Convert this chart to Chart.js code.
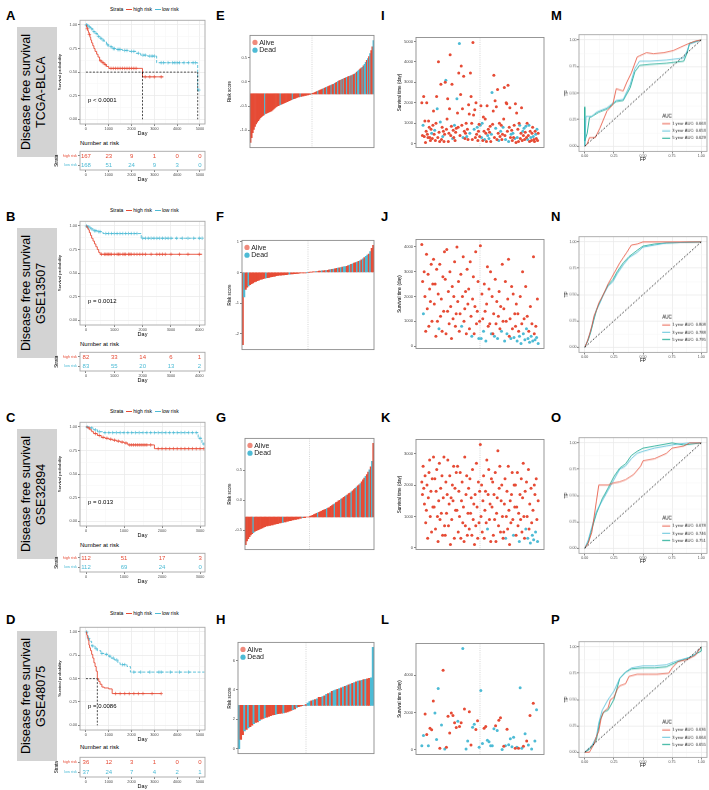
<!DOCTYPE html>
<html><head><meta charset="utf-8">
<script src="https://cdn.jsdelivr.net/npm/chart.js@4"></script>
<style>
body{margin:0;background:#fff;}
#wrap{position:relative;width:709px;height:790px;overflow:hidden;font-family:"Liberation Sans",Arial,sans-serif;color:#000;}
canvas{position:absolute;}
.tag{position:absolute;font-weight:bold;font-size:13px;line-height:13px;}
.box{position:absolute;left:17px;width:40px;height:130px;background:#D3D3D3;}
.box div{position:absolute;left:2px;top:0;width:30px;height:130px;writing-mode:vertical-rl;transform:rotate(180deg);font-size:12.5px;line-height:15px;text-align:center;white-space:nowrap;}
.kmleg{position:absolute;left:110px;font-size:5px;line-height:6px;white-space:nowrap;}
.kmleg i{display:inline-block;width:6px;height:0;border-top:1px solid;vertical-align:middle;margin:0 1px 0 3px;}
.nar{position:absolute;left:80px;font-size:6px;line-height:8px;white-space:nowrap;}
</style></head><body><div id="wrap"></div><script>
// ---------- data ----------
// Kaplan-Meier curves (day of step, survival after step), last day, censor days
const aHighDay = [0,25,50,80,110,140,175,210,250,300,350,400,470,530,600,700,800,900,1000,2480];
const aHighSurv = [1,.98,.96,.94,.92,.9,.87,.84,.81,.78,.75,.72,.69,.66,.62,.6,.58,.56,.54,.45];
const aHighLast = 3400;
const aHighCens = [60,150,650,750,850,1100,1200,1300,1400,1500,1600,1700,1800,1900,2000,2100,2200,2600,2800,3000,3300];
const aLowDay = [0,50,100,200,300,400,500,600,700,800,900,1000,1150,1300,1600,1900,2200,2400,2700,3100,4900];
const aLowSurv = [1,.99,.98,.96,.93,.91,.88,.86,.84,.82,.79,.77,.75,.74,.73,.72,.7,.68,.67,.6,.31];
const aLowLast = 4980;
const aLowCens = [20,40,80,150,250,350,450,550,650,750,950,1100,1200,1250,1400,1450,1500,1700,1800,2000,2100,2300,2500,2600,2800,2900,3000,3300,3400,3600,3800,3900,4000,4100,4300,4500,4700,4800,4950];
const aMedian = [2480, 4900];
const aRiskHigh = [167,23,9,1,0,0];
const aRiskLow = [168,51,24,9,3,0];
const aDayTicks = [0,1000,2000,3000,4000,5000];

const bHighDay = [0,40,80,120,160,200,250,300,350,400,450,500];
const bHighSurv = [1,.98,.96,.93,.9,.87,.84,.81,.78,.75,.72,.7];
const bHighLast = 4100;
const bHighCens = [550,650,700,750,800,850,900,1000,1100,1150,1200,1300,1350,1400,1500,1550,1600,1700,1800,1900,2000,2100,2300,2500,2600,2700,2800,3000,3300,3600,4000];
const bLowDay = [0,50,150,250,400,600,1950];
const bLowSurv = [1,.99,.97,.95,.94,.92,.87];
const bLowLast = 4100;
const bLowCens = [20,60,100,200,300,350,450,500,700,800,900,1000,1100,1200,1300,1400,1500,1600,1700,1800,2000,2100,2200,2300,2400,2500,2600,2700,2800,2900,3000,3200,3400,3600,3800,4000,4100];
const bMedian = [];
const bRiskHigh = [82,33,14,6,1];
const bRiskLow = [83,55,20,13,2];
const bDayTicks = [0,1000,2000,3000,4000];

const cHighDay = [0,50,100,150,200,300,400,500,600,700,800,900,1000,1100,1800];
const cHighSurv = [1,.99,.97,.95,.93,.91,.89,.88,.87,.86,.85,.84,.83,.81,.77];
const cHighLast = 3100;
const cHighCens = [80,250,350,450,550,650,750,850,950,1050,1150,1200,1250,1300,1350,1400,1450,1500,1550,1600,1700,1900,2000,2100,2200,2300,2400,2500,2600,2700,2800,2900,3000,3100];
const cLowDay = [0,100,200,300,450,2950,3050];
const cLowSurv = [1,.99,.97,.95,.94,.88,.82];
const cLowLast = 3100;
const cLowCens = [30,150,250,350,500,600,700,800,900,1000,1100,1200,1300,1400,1500,1600,1700,1800,1900,2000,2100,2200,2300,2400,2500,2600,2700,2800,2900,3000,3100];
const cMedian = [];
const cRiskHigh = [112,51,17,3];
const cRiskLow = [112,69,24,0];
const cDayTicks = [0,1000,2000,3000];

const dHighDay = [0,30,60,100,130,160,200,250,300,350,400,450,500,560,620,700,800,1000,1150];
const dHighSurv = [1,.97,.94,.91,.86,.83,.8,.76,.72,.67,.63,.58,.5,.47,.44,.41,.4,.39,.34];
const dHighLast = 3300;
const dHighCens = [1300,1500,1700,1900,2100,2300,2500,2900,3300];
const dLowDay = [0,50,100,150,250,400,500,650,800,1000,1100,1250,1400,1500,1800,1950];
const dLowSurv = [1,.96,.93,.9,.85,.82,.8,.77,.76,.74,.72,.7,.67,.65,.63,.57];
const dLowLast = 5200;
const dLowCens = [30,120,300,450,700,900,1050,1200,1350,1600,1700,2100,2400,2800,3200,3300,3700,4100,4500];
const dMedian = [500];
const dRiskHigh = [36,12,3,1,0,0];
const dRiskLow = [37,24,7,4,2,1];
const dDayTicks = [0,1000,2000,3000,4000,5000];

const pValues = ['p < 0.0001', 'p = 0.0012', 'p = 0.013', 'p = 0.0086'];
const strata = ['high risk', 'low risk'];
const cohorts = ['TCGA-BLCA', 'GSE13507', 'GSE32894', 'GSE48075'];

// risk score bars (sorted), status a = alive, d = dead
const eScore = [-1.25,-1.15,-1.05,-0.98,-0.92,-0.87,-0.83,-0.8,-0.77,-0.74,-0.72,-0.7,-0.68,-0.66,-0.65,-0.64,-0.63,-0.62,-0.61,-0.6,-0.58,-0.56,-0.54,-0.52,-0.5,-0.49,-0.48,-0.47,-0.46,-0.45,-0.44,-0.43,-0.42,-0.41,-0.4,-0.39,-0.38,-0.37,-0.36,-0.35,-0.34,-0.33,-0.32,-0.31,-0.31,-0.3,-0.3,-0.29,-0.29,-0.28,-0.28,-0.27,-0.27,-0.26,-0.26,-0.25,-0.24,-0.23,-0.22,-0.21,-0.2,-0.19,-0.18,-0.17,-0.16,-0.15,-0.14,-0.13,-0.12,-0.11,-0.1,-0.09,-0.08,-0.07,-0.06,-0.05,-0.03,-0.02,-0.01,0.01,0.02,0.03,0.04,0.05,0.06,0.07,0.08,0.09,0.1,0.11,0.12,0.13,0.14,0.15,0.16,0.18,0.2,0.22,0.24,0.26,0.28,0.3,0.33,0.36,0.4,0.44,0.48,0.52,0.58,0.64,0.72,0.85];
const eStatus = 'aaaaaaaaaaaaadaaaaaa' + 'aaaaaaadaaaaaaaaaada' + 'aaaaadaaaaaaaaadaaaa' + 'adaaaadaadaaadaadaad' + 'aadadaadaadadaadadda' + 'adaddadadaad';
const eBase = -0.25;
const fScore = [-2.35,-0.8,-0.55,-0.48,-0.44,-0.4,-0.37,-0.34,-0.31,-0.29,-0.27,-0.25,-0.23,-0.22,-0.2,-0.19,-0.18,-0.17,-0.16,-0.15,-0.14,-0.13,-0.12,-0.11,-0.1,-0.09,-0.09,-0.08,-0.08,-0.07,-0.07,-0.06,-0.06,-0.05,-0.05,-0.04,-0.04,-0.03,-0.03,-0.02,-0.02,-0.02,-0.01,-0.01,0,0,0.01,0.01,0.02,0.02,0.03,0.03,0.04,0.04,0.05,0.05,0.06,0.06,0.07,0.08,0.09,0.1,0.11,0.12,0.13,0.14,0.15,0.16,0.17,0.18,0.19,0.2,0.22,0.24,0.26,0.28,0.3,0.32,0.34,0.36,0.38,0.41,0.44,0.48,0.52,0.56,0.6,0.68,0.78,0.88];
const fStatus = 'adaadaaaaaaaaaaadaaa' + 'aaaaaaaaaaaadaaaaaaa' + 'aaaadaaaaadaaadaadaa' + 'dadaadadaddaadadaada' + 'dadaddadaa';
const fBase = 0;
const gScore = [-0.74,-0.68,-0.64,-0.61,-0.58,-0.56,-0.54,-0.52,-0.51,-0.5,-0.49,-0.48,-0.47,-0.46,-0.45,-0.44,-0.43,-0.43,-0.42,-0.42,-0.41,-0.41,-0.4,-0.4,-0.39,-0.39,-0.38,-0.38,-0.37,-0.37,-0.36,-0.36,-0.35,-0.35,-0.34,-0.34,-0.33,-0.33,-0.32,-0.32,-0.31,-0.31,-0.3,-0.3,-0.29,-0.29,-0.29,-0.28,-0.28,-0.28,-0.27,-0.26,-0.25,-0.24,-0.23,-0.22,-0.21,-0.2,-0.19,-0.18,-0.17,-0.16,-0.15,-0.14,-0.13,-0.12,-0.1,-0.09,-0.07,-0.06,-0.04,-0.03,-0.01,0,0.02,0.03,0.05,0.06,0.08,0.09,0.11,0.12,0.14,0.16,0.18,0.2,0.22,0.24,0.26,0.28,0.31,0.34,0.37,0.4,0.43,0.47,0.51,0.56,0.65,0.95];
const gStatus = 'aaaaaadaaaaaaaaaaaaa' + 'aaaaaaaaadaaaaaaaaaa' + 'aaaadaaaaaaaaaaadaaa' + 'aaadaaaaadaaaadaaada' + 'aadaaadaadaaadaadada';
const gBase = -0.28;
const hScore = [0,0.62,0.95,1.2,1.3,1.4,1.5,1.6,1.7,1.78,1.82,1.9,2.0,2.05,2.1,2.15,2.2,2.25,2.3,2.32,2.35,2.38,2.4,2.42,2.44,2.46,2.5,2.55,2.6,2.65,2.7,2.8,2.85,2.9,2.93,2.95,3.0,3.1,3.2,3.25,3.3,3.35,3.4,3.5,3.5,3.55,3.6,3.7,3.75,3.8,3.9,3.95,4.0,4.05,4.1,4.15,4.2,4.25,4.3,4.35,4.4,4.45,4.5,4.55,4.6,4.62,4.65,4.7,4.72,4.75,4.8,4.82,6.9];
const hStatus = 'daadadaada' + 'adaadaaaaa' + 'daaadaaaad' + 'adaaadadda' + 'dadaadadad' + 'addadadada' + 'dadadadada' + 'add';
const hBase = 2.95;
const statusNames = ['Alive', 'Dead'];

// survival time per sample, in risk order
const iDays = [
  2000,400,900,2300,350,1100,50,600,2000,450,300,1100,800,300,150,700,500,250,900,
  1600,450,650,150,1000,2300,1700,300,4000,550,100,1050,2900,200,800,350,600,100,450,
  3000,3100,700,1200,2200,100,500,1700,4350,400,850,2900,250,650,300,900,150,550,750,
  2200,1500,800,3450,4900,400,2400,3800,900,1700,300,3300,600,250,500,1000,350,700,200,
  1900,1450,500,3450,2300,1000,200,4950,1400,700,1650,300,2000,450,800,150,600,950,350,
  900,1850,300,1000,150,1300,600,200,1200,500,100,1850,400,700,250,550,850,100,450,
  2500,950,1600,3350,300,2100,750,1800,200,2650,500,150,1000,350,600,900,200,450,800,
  1200,2750,400,200,2000,1950,600,2850,100,800,1750,300,450,650,150,500,300,900,250,
  1950,50,1500,300,700,100,1000,900,250,500,1750,150,600,400,750,200,550,850,300,
  1000,200,400,900,100,600,300,150,500,800,350,200,100,600,450,250,700,150,500];
const iStatus = 'aadaaaaaaaaaaaaadaa' + 'aadaaadaaaadaaadaaa' + 'adaaaaaaaaaadaadaaa' + 'daaadaaaaadaaaaadaa' + 'aadaaaaaadaaaadaaaa' + 'daddaaadaaaadadaaad' + 'daaaaadaaaadaadaaad' + 'aaadaaaadaaadaadaad' + 'aaadaaadaaaadadaada' + 'adadaadaaadaaadadaa';
const jDays = [
  4100,2600,1300,3000,2000,600,3700,1500,2900,800,2300,1800,3300,1000,2500,
  3500,1700,2500,400,3100,1000,2100,700,3300,1200,1900,600,2800,1400,3800,
  2700,500,3900,1400,2200,900,3000,1600,300,2400,1100,2000,3400,800,1300,
  4000,1800,2600,600,1300,2900,800,2000,3600,1000,1500,2200,500,3100,1700,
  2300,700,3400,1200,400,1900,2800,500,1600,3800,900,1400,2600,300,1000,
  4050,300,2100,1100,600,2500,1400,200,1700,3200,800,2300,900,3000,500,
  2000,500,1300,400,2700,900,1800,300,1200,2200,700,1600,600,3300,1000,
  1500,200,2600,1000,500,1900,3500,400,1100,300,2400,700,2100,350,1300,
  800,1700,200,1300,600,400,2000,100,900,3000,500,1100,250,2400,700,
  1200,300,600,150,1600,400,900,200,3600,500,250,800,350,1900,100];
const jStatus = 'aadaaaaaaaaaaaa' + 'aaaaaaadaaaaaaa' + 'aaaaaaaaaaaaaaa' + 'aaaaaadaaaaaaaa' + 'aaaadaaaaaaaada' + 'adaadaadaaaaaad' + 'aaadaaadaaaadaa' + 'adaadaaaadaaada' + 'aadaadadaadadad' + 'adadadadaadadad';
const kDays = [
  2100,1700,2600,1900,1400,2300,800,1200,2000,300,1600,2400,2800,1000,1800,500,2200,1300,
  2900,1300,2200,600,1800,2500,1000,200,1500,2700,900,1900,1100,2300,400,1600,2900,700,
  400,2100,1100,1700,2800,700,1400,2300,100,1600,900,2000,1500,2600,300,1900,1200,2400,
  1200,2600,500,1800,1000,2400,300,1500,2100,800,1300,200,2900,700,1700,2300,400,1100,
  1900,600,2200,1100,1600,400,2500,900,1400,100,1700,700,2700,1300,300,2100,800,1800,
  3300,1000,2000,500,1500,2300,300,1200,1800,800,2800,600,1700,2500,900,1400,200,2200,
  1300,2100,400,1700,900,2400,200,1100,1600,3100,700,1900,2600,500,1500,2000,1000,300,
  500,1400,2200,300,1000,1800,600,2600,1200,100,1500,800,1700,2400,900,400,2000,1300,
  2000,400,1300,2400,700,1100,200,1700,900,2200,500,1600,2700,1000,300,1800,600,2100,
  1000,300,2500,600,1400,150,1900,800,400,1200,250,2000,1700,500,2200,900,200,1500];
const kStatus = 'aaaaaaaaaaaaaaaaaa' + 'aaaaaaaaaaaaaaaaaa' + 'aaaaaaaaaaaaaaaaaa' + 'aaaaaaaaaaaaaaaaaa' + 'aaaaaaaaaaaaaaaaaa' + 'aaaaaaaaaaadaaaaaa' + 'aaaaaaaaaaaaaaaaaa' + 'aaadaaaaaaaaaaadaa' + 'aaaaaadaaaaaaaaada' + 'adaaadaadadaadaada';
const lDays = [220,770,1930,820,220,1160,1080,2620,1980,560,3300,85,1330,4270,50,140,1810,900,1980,1850,1450,1200,1540,1250,1450,5440,2190,50,480,2050,260,1210,1380,1090,1560,140,3180,340,1160,1250,510,430,220,220,1130,1300,1040,1590,1730,20,190,220,1110,270,600,170,680,85,140,85,3330,85,200,870,480,260,1850,50,2500,480,2150,560];
const lStatus = 'ddaadaaadddadadaaaaaaadaadaddaaddaadddaadddddadaadadaddddadaddadadadadd';

// ROC curves [FP, TP]
const rocYears = [1, 3, 5];
const m1 = [[0,0],[0.02,0.02],[0.04,0.08],[0.09,0.08],[0.13,0.17],[0.19,0.33],[0.24,0.39],[0.27,0.54],[0.33,0.52],[0.36,0.6],[0.4,0.69],[0.45,0.84],[0.47,0.85],[0.53,0.88],[0.59,0.87],[0.68,0.88],[0.76,0.9],[0.82,0.93],[0.88,0.96],[0.95,0.99],[1,1]];
const m3 = [[0,0],[0.01,0.28],[0.06,0.28],[0.1,0.32],[0.19,0.36],[0.27,0.43],[0.33,0.44],[0.39,0.58],[0.43,0.73],[0.47,0.8],[0.56,0.8],[0.7,0.81],[0.85,0.83],[0.88,0.9],[0.9,0.96],[1,1]];
const m5 = [[0,0],[0,0.37],[0,0.05],[0.02,0.12],[0.04,0.27],[0.06,0.28],[0.12,0.32],[0.19,0.35],[0.27,0.42],[0.33,0.43],[0.39,0.55],[0.43,0.7],[0.47,0.76],[0.56,0.77],[0.7,0.78],[0.85,0.8],[0.88,0.88],[0.9,0.97],[1,1]];
const mAuc = [0.663, 0.653, 0.629];
const n1 = [[0,0],[0.02,0.05],[0.04,0.12],[0.06,0.2],[0.08,0.3],[0.1,0.35],[0.12,0.42],[0.15,0.48],[0.18,0.55],[0.2,0.6],[0.23,0.66],[0.26,0.72],[0.3,0.8],[0.33,0.85],[0.36,0.9],[0.4,0.97],[0.45,0.98],[0.5,1],[1,1]];
const n3 = [[0,0],[0.03,0.08],[0.05,0.15],[0.08,0.28],[0.1,0.36],[0.13,0.42],[0.16,0.5],[0.2,0.58],[0.24,0.62],[0.28,0.7],[0.33,0.78],[0.38,0.85],[0.45,0.9],[0.5,0.95],[0.6,0.97],[0.7,0.99],[1,1]];
const n5 = [[0,0],[0.03,0.07],[0.05,0.14],[0.08,0.27],[0.1,0.35],[0.13,0.43],[0.16,0.5],[0.2,0.59],[0.24,0.64],[0.28,0.72],[0.33,0.8],[0.38,0.86],[0.45,0.92],[0.5,0.96],[0.6,0.98],[0.7,0.99],[1,1]];
const nAuc = [0.808, 0.788, 0.795];
const o1 = [[0,0],[0.03,0.05],[0.06,0.15],[0.08,0.3],[0.1,0.45],[0.12,0.6],[0.2,0.6],[0.25,0.62],[0.3,0.63],[0.35,0.65],[0.42,0.7],[0.48,0.78],[0.5,0.83],[0.6,0.85],[0.7,0.9],[0.75,0.95],[0.85,0.97],[0.9,1],[1,1]];
const o3 = [[0,0],[0.03,0.08],[0.06,0.2],[0.1,0.35],[0.15,0.45],[0.2,0.55],[0.25,0.65],[0.3,0.75],[0.35,0.78],[0.4,0.85],[0.45,0.9],[0.5,0.92],[0.6,0.95],[0.7,0.97],[0.8,0.99],[0.9,1],[1,1]];
const o5 = [[0,0],[0.03,0.06],[0.06,0.18],[0.1,0.33],[0.15,0.47],[0.2,0.57],[0.25,0.68],[0.3,0.76],[0.35,0.8],[0.4,0.88],[0.45,0.92],[0.5,0.95],[0.6,0.97],[0.75,1],[0.85,0.98],[1,1]];
const oAuc = [0.678, 0.746, 0.751];
const p1 = [[0,0],[0.04,0],[0.05,0.02],[0.08,0.08],[0.1,0.15],[0.12,0.2],[0.14,0.32],[0.16,0.38],[0.2,0.42],[0.22,0.5],[0.25,0.52],[0.28,0.6],[0.3,0.63],[0.35,0.65],[0.38,0.72],[0.45,0.74],[0.55,0.74],[0.62,0.74],[0.72,0.75],[0.75,0.8],[0.8,0.86],[0.88,0.88],[0.95,0.92],[1,1]];
const p3 = [[0,0],[0.02,0.02],[0.06,0.06],[0.1,0.15],[0.12,0.28],[0.15,0.4],[0.2,0.5],[0.25,0.58],[0.3,0.7],[0.35,0.76],[0.4,0.8],[0.5,0.82],[0.6,0.82],[0.7,0.83],[0.8,0.87],[0.9,0.9],[0.95,0.93],[1,1]];
const p5 = [[0,0],[0.03,0.02],[0.06,0.05],[0.1,0.12],[0.13,0.3],[0.16,0.38],[0.2,0.4],[0.25,0.5],[0.3,0.7],[0.35,0.76],[0.4,0.79],[0.5,0.8],[0.6,0.8],[0.7,0.81],[0.8,0.86],[0.9,0.9],[1,0.96],[1,1]];
const pAuc = [0.636, 0.664, 0.655];

// ---------- drawing ----------
const RED = '#E64B35', BLUE = '#4DBBD5', TEAL = '#00A087';
const FONT = '"Liberation Sans", Arial, sans-serif';
Chart.defaults.font.family = FONT;
Chart.defaults.animation = false;
Chart.defaults.plugins.legend.display = false;
Chart.defaults.plugins.tooltip.enabled = false;
const wrap = document.getElementById('wrap');

function html(cls, css, inner) {
  const d = document.createElement('div');
  d.className = cls; d.style.cssText = css; d.innerHTML = inner;
  wrap.appendChild(d);
  return d;
}

function canvasFor(rect, m) {
  const c = document.createElement('canvas');
  const w = rect[2] - rect[0] + m.l + m.r, h = rect[3] - rect[1] + m.t + m.b;
  c.width = w; c.height = h;
  c.style.left = (rect[0] - m.l) + 'px'; c.style.top = (rect[1] - m.t) + 'px';
  c.style.width = w + 'px'; c.style.height = h + 'px';
  wrap.appendChild(c);
  return c;
}

// panel border + optional dotted middle line
const frame = {
  id: 'frame',
  beforeDatasetsDraw(chart, args, o) {
    if (o.mid === undefined) return;
    const {ctx, chartArea: a} = chart;
    const x = chart.scales.x.getPixelForValue(o.mid);
    ctx.save();
    ctx.strokeStyle = '#BBBBBB'; ctx.lineWidth = 0.6; ctx.setLineDash([1, 1.2]);
    ctx.beginPath(); ctx.moveTo(x, a.top); ctx.lineTo(x, a.bottom); ctx.stroke();
    ctx.restore();
  },
  afterDraw(chart, args, o) {
    const {ctx, chartArea: a} = chart;
    ctx.save();
    ctx.strokeStyle = o.color || '#A6A6A6'; ctx.lineWidth = o.width || 0.9;
    ctx.strokeRect(a.left, a.top, a.width, a.height);
    ctx.restore();
  }
};

// text drawn at data points (p-values, numbers at risk)
const pointText = {
  id: 'pointText',
  afterDatasetsDraw(chart) {
    const ctx = chart.ctx;
    chart.data.datasets.forEach((ds, i) => {
      if (!ds.texts) return;
      ctx.save();
      ctx.font = ds.textFont; ctx.fillStyle = ds.textColor;
      ctx.textAlign = ds.textAlign || 'center'; ctx.textBaseline = 'middle';
      chart.getDatasetMeta(i).data.forEach((el, j) => ctx.fillText(ds.texts[j], el.x, el.y));
      ctx.restore();
    });
  }
};

// Alive / Dead dot legend in the top-left corner
const dotLegend = {
  id: 'dotLegend',
  afterDraw(chart, args, o) {
    if (!o.labels) return;
    const {ctx, chartArea: a} = chart;
    ctx.save();
    o.labels.forEach((t, i) => {
      const y = a.top + 7 + i * 7.8, x = a.left + 5;
      ctx.fillStyle = o.colors[i];
      ctx.beginPath(); ctx.arc(x, y, 2.6, 0, Math.PI * 2); ctx.fill();
      ctx.fillStyle = '#222'; ctx.font = '7px ' + FONT; ctx.textBaseline = 'middle';
      ctx.fillText(t, x + 4.2, y + 0.3);
    });
    ctx.restore();
  }
};

// ROC legend inside the panel
const rocLegend = {
  id: 'rocLegend',
  afterDraw(chart, args, o) {
    if (!o.labels) return;
    const {ctx, chartArea: a} = chart;
    const x = a.left + a.width * 0.65, y = a.top + a.height * 0.7;
    ctx.save();
    ctx.textBaseline = 'middle'; ctx.fillStyle = '#000';
    ctx.font = '4.6px ' + FONT;
    ctx.fillText(o.title, x, y);
    o.labels.forEach((t, i) => {
      const yy = y + 7.2 * (i + 1);
      ctx.strokeStyle = o.colors[i]; ctx.lineWidth = 0.9;
      ctx.beginPath(); ctx.moveTo(x, yy); ctx.lineTo(x + 8, yy); ctx.stroke();
      ctx.fillStyle = '#222'; ctx.font = '4.1px ' + FONT;
      ctx.fillText(t, x + 10, yy);
    });
    ctx.restore();
  }
};

function lin(o) {
  const major = o.ticks || [];
  const all = major.concat(o.minor || []).sort((a, b) => a - b);
  const isMajor = c => c.tick && major.indexOf(c.tick.value) >= 0;
  return {
    type: 'linear', position: o.pos, min: o.min, max: o.max,
    afterBuildTicks: s => { s.ticks = all.map(v => ({value: v})); },
    afterFit: s => { if (o.pos === 'left') s.width = o.size; else s.height = o.size; },
    border: {display: false},
    grid: {
      drawOnChartArea: !!o.grid,
      color: c => isMajor(c) ? '#EBEBEB' : '#F5F5F5',
      lineWidth: c => isMajor(c) ? 0.8 : 0.5,
      tickLength: 2, tickWidth: 0.6,
      tickColor: c => isMajor(c) ? '#333' : 'rgba(0,0,0,0)'
    },
    ticks: {
      autoSkip: false, maxRotation: 0, minRotation: 0, padding: o.tpad === undefined ? 1 : o.tpad,
      font: {size: o.fs || 3.8}, color: '#4D4D4D',
      callback: v => { const k = major.indexOf(v); return k < 0 ? '' : o.labels[k]; }
    },
    title: {display: !!o.title, text: o.title, color: '#000', font: {size: o.tsize || 4.5}, padding: 0}
  };
}

function baseOpts(m, scales, plugins) {
  return {
    responsive: false, devicePixelRatio: 1,
    layout: {padding: {top: m.t, right: m.r, left: 0, bottom: m.bp || 0}, autoPadding: false},
    scales, plugins
  };
}

const mids = t => t.slice(0, -1).map((v, i) => (v + t[i + 1]) / 2);
const expand = (lo, hi) => [lo - 0.05 * (hi - lo), hi + 0.05 * (hi - lo)];

function kmPanel(rect, tRect, xr, day, hi, lo, med, pText, pDay, riskHi, riskLo) {
  const m = {l: 23, r: 2, t: 2, b: 13};
  const curve = c => c[0].map((x, i) => ({x, y: c[1][i]})).concat([{x: c[2], y: c[1][c[1].length - 1]}]);
  const survAt = (c, x) => { let v = 1; c[0].forEach((t, i) => { if (t <= x) v = c[1][i]; }); return v; };
  const medData = [];
  if (med.length) {
    medData.push({x: 0, y: 0.5}, {x: Math.max(...med), y: 0.5});
    med.forEach(v => medData.push({x: v, y: null}, {x: v, y: 0.5}, {x: v, y: 0}));
  }
  const line = (c, col, dash) => ({data: curve(c), showLine: true, stepped: true, borderColor: col, borderWidth: 0.9, borderDash: dash, pointRadius: 0});
  const cens = (c, col) => ({data: c[3].map(x => ({x, y: survAt(c, x)})), pointStyle: 'cross', pointRadius: 1.8, borderColor: col, borderWidth: 0.6, backgroundColor: col});
  const labels = day.map(String);
  new Chart(canvasFor(rect, m), {
    type: 'scatter',
    data: {datasets: [
      {data: medData, showLine: true, spanGaps: false, borderColor: '#000', borderWidth: 0.7, borderDash: [2, 1.5], pointRadius: 0},
      line(hi, RED, []), line(lo, BLUE, [3, 1.6]), cens(hi, RED), cens(lo, BLUE),
      {data: [{x: pDay, y: 0.2}], pointRadius: 0, texts: [pText], textAlign: 'left', textFont: '6px ' + FONT, textColor: '#000'}
    ]},
    options: baseOpts(m, {
      x: lin({pos: 'bottom', min: xr[0], max: xr[1], ticks: day, labels, minor: mids(day), grid: true, size: m.b, title: 'Day', tsize: 5.5}),
      y: lin({pos: 'left', min: -0.05, max: 1.05, ticks: [0, .25, .5, .75, 1], labels: ['0.00', '0.25', '0.50', '0.75', '1.00'], minor: [.125, .375, .625, .875], grid: true, size: m.l, title: 'Survival probability', tsize: 4.3})
    }, {frame: {}}),
    plugins: [frame, pointText]
  });
  const tm = {l: 26, r: 2, t: 1, b: 13};
  const y = lin({pos: 'left', min: 0.5, max: 2.5, ticks: [1, 2], labels: [strata[1], strata[0]], size: tm.l, title: 'Strata', tsize: 4.5});
  y.ticks.color = c => c.tick && c.tick.value === 2 ? RED : BLUE;
  const row = (vals, yy, col) => ({data: day.map(x => ({x, y: yy})), pointRadius: 0, texts: vals.map(String), textFont: '6px ' + FONT, textColor: col});
  new Chart(canvasFor(tRect, tm), {
    type: 'scatter',
    data: {datasets: [row(riskHi, 2, RED), row(riskLo, 1, BLUE)]},
    options: baseOpts(tm, {
      x: lin({pos: 'bottom', min: xr[0], max: xr[1], ticks: day, labels, size: tm.b, title: 'Day', tsize: 5.5}), y
    }, {frame: {}}),
    plugins: [frame, pointText]
  });
}

function barPanel(rect, l, vals, status, base, ticks, labels) {
  const m = {l, r: 1, t: 1, b: 0, bp: 1};
  const yr = expand(Math.min(...vals), Math.max(...vals));
  new Chart(canvasFor(rect, m), {
    type: 'bar',
    data: {labels: vals.map((v, i) => i + 1), datasets: [{
      data: vals, base, borderWidth: 0, barPercentage: 1, categoryPercentage: 1,
      backgroundColor: vals.map((v, i) => status[i] === 'd' ? BLUE : RED)
    }]},
    options: baseOpts(m, {
      x: {display: false},
      y: lin({pos: 'left', min: yr[0], max: yr[1], ticks, labels, size: l, title: 'Risk score', fs: 4})
    }, {frame: {color: '#8C8C8C', mid: (vals.length - 1) / 2}, dotLegend: {labels: statusNames, colors: ['rgba(230,75,53,0.65)', BLUE]}}),
    plugins: [frame, dotLegend]
  });
}

function dotPanel(rect, days, status, ticks) {
  const m = {l: 19, r: 1, t: 1, b: 0, bp: 1};
  const n = days.length;
  const xr = expand(1, n), yr = expand(Math.min(...days), Math.max(...days));
  const pts = s => days.map((d, i) => status[i] === s ? {x: i + 1, y: d} : null).filter(Boolean);
  new Chart(canvasFor(rect, m), {
    type: 'scatter',
    data: {datasets: [
      {data: pts('a'), backgroundColor: RED, pointRadius: 1.5, borderWidth: 0},
      {data: pts('d'), backgroundColor: BLUE, pointRadius: 1.5, borderWidth: 0}
    ]},
    options: baseOpts(m, {
      x: {display: false, min: xr[0], max: xr[1]},
      y: lin({pos: 'left', min: yr[0], max: yr[1], ticks, labels: ticks.map(String), size: m.l, title: 'Survival time (day)', fs: 4.1})
    }, {frame: {color: '#8C8C8C', mid: (n + 1) / 2}}),
    plugins: [frame]
  });
}

function rocPanel(rect, curves, auc) {
  const m = {l: 15, r: 2, t: 1, b: 10.5};
  const cols = [RED, BLUE, TEAL];
  const t = [0, .25, .5, .75, 1], lab = ['0.00', '0.25', '0.50', '0.75', '1.00'], mn = [.125, .375, .625, .875];
  const ds = [{data: [{x: 0, y: 0}, {x: 1, y: 1}], showLine: true, borderColor: '#000', borderWidth: 0.7, borderDash: [2, 1.6], pointRadius: 0}];
  curves.forEach((c, i) => ds.push({data: c.map(p => ({x: p[0], y: p[1]})), showLine: true, borderColor: cols[i], borderWidth: 0.8, pointRadius: 0}));
  new Chart(canvasFor(rect, m), {
    type: 'scatter',
    data: {datasets: ds},
    options: baseOpts(m, {
      x: lin({pos: 'bottom', min: -0.05, max: 1.05, ticks: t, labels: lab, minor: mn, grid: true, size: m.b, title: 'FP', tsize: 4.6, fs: 3.6, tpad: 0.5}),
      y: lin({pos: 'left', min: -0.05, max: 1.05, ticks: t, labels: lab, minor: mn, grid: true, size: m.l, title: 'TP', tsize: 4.6, fs: 3.6, tpad: 0.5})
    }, {frame: {}, rocLegend: {title: 'AUC', labels: rocYears.map((y, i) => y + ' year AUC: ' + auc[i].toFixed(3)), colors: cols}}),
    plugins: [frame, rocLegend]
  });
}

// ---------- layout ----------
const rowTop = [0, 201, 402, 604];
const letters = [['A', 'E', 'I', 'M'], ['B', 'F', 'J', 'N'], ['C', 'G', 'K', 'O'], ['D', 'H', 'L', 'P']];
letters.forEach((row, r) => {
  [6, 216, 381, 551].forEach((x, k) => html('tag', `left:${x}px;top:${rowTop[r] + 9}px`, row[k]));
  html('box', `top:${rowTop[r] + 27}px`, `<div>Disease free survival<br>${cohorts[r]}</div>`);
  html('kmleg', `top:${rowTop[r] + 6}px`, `Strata<i style="color:${RED}"></i>${strata[0]}<i style="color:${BLUE};border-top-style:dashed"></i>${strata[1]}`);
  html('nar', `top:${rowTop[r] + 139}px`, 'Number at risk');
});

kmPanel([80, 19, 205, 124], [80, 149, 205, 170], [-260, 5220], aDayTicks,
  [aHighDay, aHighSurv, aHighLast, aHighCens], [aLowDay, aLowSurv, aLowLast, aLowCens], aMedian, pValues[0], 90, aRiskHigh, aRiskLow);
kmPanel([80, 220, 205, 325], [80, 350, 205, 371], [-210, 4200], bDayTicks,
  [bHighDay, bHighSurv, bHighLast, bHighCens], [bLowDay, bLowSurv, bLowLast, bLowCens], bMedian, pValues[1], 70, bRiskHigh, bRiskLow);
kmPanel([80, 421, 205, 526], [80, 551, 205, 572], [-158, 3130], cDayTicks,
  [cHighDay, cHighSurv, cHighLast, cHighCens], [cLowDay, cLowSurv, cLowLast, cLowCens], cMedian, pValues[2], 50, cRiskHigh, cRiskLow);
kmPanel([80, 626, 205, 730], [80, 755, 205, 777], [-260, 5220], dDayTicks,
  [dHighDay, dHighSurv, dHighLast, dHighCens], [dLowDay, dLowSurv, dLowLast, dLowCens], dMedian, pValues[3], 90, dRiskHigh, dRiskLow);

barPanel([250, 33, 374, 151], 23, eScore, eStatus, eBase, [-1, -0.5, 0, 0.5], ['-1.0', '-0.5', '0.0', '0.5']);
barPanel([242, 238, 374, 353], 15, fScore, fStatus, fBase, [-2, -1, 0, 1], ['-2', '-1', '0', '1']);
barPanel([245, 436, 374, 553], 18, gScore, gStatus, gBase, [-0.5, 0, 0.5], ['-0.5', '0.0', '0.5']);
barPanel([238, 640, 374, 757], 11, hScore, hStatus, hBase, [0, 2, 4, 6], ['0', '2', '4', '6']);

dotPanel([416, 35, 544, 151], iDays, iStatus, [0, 1000, 2000, 3000, 4000, 5000]);
dotPanel([416, 237, 544, 352], jDays, jStatus, [0, 1000, 2000, 3000, 4000]);
dotPanel([416, 437, 544, 553], kDays, kStatus, [0, 1000, 2000, 3000]);
dotPanel([416, 641, 544, 758], lDays, lStatus, [0, 2000, 4000]);

rocPanel([579, 33, 707, 151], [m1, m3, m5], mAuc);
rocPanel([579, 235, 707, 352], [n1, n3, n5], nAuc);
rocPanel([579, 436, 707, 553], [o1, o3, o5], oAuc);
rocPanel([579, 640, 707, 757], [p1, p3, p5], pAuc);
</script></body></html>
